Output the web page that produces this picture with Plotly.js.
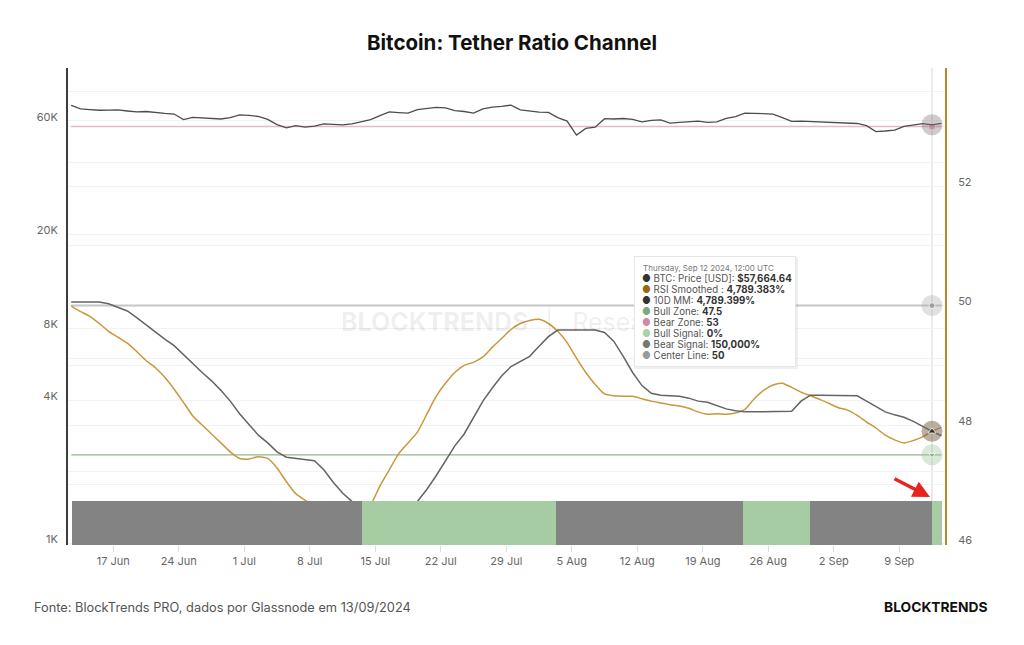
<!DOCTYPE html>
<html>
<head>
<meta charset="utf-8">
<script src="https://cdn.plot.ly/plotly-3.0.1.min.js"></script>
<style>
html,body{margin:0;padding:0;background:#fff;}
#chart{width:1024px;height:645px;}
</style>
</head>
<body>
<div id="chart"></div>
<script>
// ---------- DATA ----------
// Daily observations at 12:00 UTC, starting 12 Jun 2024
const startDate = '2024-06-12T12:00:00Z';

// BTC price (USD) - left log axis
const btcPrice = [69600, 67300, 66800, 66400, 66500, 66600, 65900, 65300, 65600, 64900,
  64400, 64000, 60600, 61900, 61600, 61200, 61000, 61800, 63500, 63200,
  62500, 60800, 57800, 56000, 57200, 56400, 56900, 58200, 57800, 57600,
  58200, 59300, 60600, 63000, 65300, 64900, 64600, 66800, 67600, 68300,
  67900, 66200, 65600, 64600, 67300, 68400, 68900, 69800, 66700, 65900,
  65200, 65000, 61800, 59800, 52200, 55700, 56300, 61200, 61000, 61300,
  60800, 59300, 60200, 60500, 58600, 59000, 59400, 59800, 59000, 59300,
  61300, 62400, 64600, 64500, 64300, 64000, 61800, 59600, 59800, 59600,
  59400, 59000, 58900, 58800, 58400, 57200, 54000, 54300, 54800, 56800,
  57600, 58300, 57664.64, 58500];

// RSI Smoothed - right axis
const rsiSmoothed = [49.99, 49.90, 49.82, 49.70, 49.57, 49.47, 49.37, 49.23, 49.08, 48.96,
  48.80, 48.60, 48.38, 48.15, 48.00, 47.85, 47.70, 47.55, 47.44, 47.43,
  47.47, 47.44, 47.28, 47.05, 46.85, 46.74, 46.62, 46.50, 46.40, 46.35,
  46.38, 46.48, 46.66, 46.98, 47.25, 47.52, 47.70, 47.88, 48.18, 48.48,
  48.70, 48.88, 49.00, 49.05, 49.14, 49.30, 49.45, 49.60, 49.70, 49.75,
  49.77, 49.70, 49.57, 49.38, 49.12, 48.88, 48.68, 48.52, 48.49, 48.48,
  48.48, 48.44, 48.40, 48.37, 48.34, 48.32, 48.28, 48.22, 48.18, 48.19,
  48.18, 48.20, 48.26, 48.44, 48.58, 48.67, 48.70, 48.63, 48.55, 48.49,
  48.43, 48.36, 48.29, 48.25, 48.16, 48.05, 47.95, 47.83, 47.75, 47.70,
  47.74, 47.80, 47.89383, 47.96];

// 10D MM - right axis
const mm10d = [50.06, 50.06, 50.06, 50.06, 50.03, 49.97, 49.91, 49.80, 49.68, 49.55,
  49.44, 49.33, 49.18, 49.02, 48.88, 48.74, 48.58, 48.40, 48.19, 48.01,
  47.83, 47.70, 47.55, 47.46, 47.44, 47.43, 47.40, 47.25, 47.04, 46.86,
  46.72, 46.62, 46.50, 46.40, 46.35, 46.38, 46.52, 46.72, 46.92, 47.15,
  47.40, 47.65, 47.85, 48.12, 48.40, 48.62, 48.82, 48.98, 49.07, 49.15,
  49.32, 49.48, 49.59, 49.59, 49.59, 49.59, 49.59, 49.55, 49.40, 49.15,
  48.88, 48.66, 48.53, 48.50, 48.49, 48.48, 48.45, 48.40, 48.38, 48.33,
  48.27, 48.24, 48.22, 48.22, 48.22, 48.22, 48.22, 48.23, 48.40, 48.50,
  48.50, 48.50, 48.50, 48.50, 48.49, 48.40, 48.31, 48.22, 48.17, 48.13,
  48.06, 47.97, 47.89399, 47.82];

// Reference levels
const bullZone = 47.5;
const bearZone = 53;
const centerLine = 50;
const signalLevel = 1500;   // 150,000 %

// Signal periods (bull / bear)
const signalStart = ['2024-06-12 15:00', '2024-07-13 14:00', '2024-08-03 07:00', '2024-08-23 06:00', '2024-08-30 10:00', '2024-09-12 11:00'];
const signalEnd   = ['2024-07-13 14:00', '2024-08-03 07:00', '2024-08-23 06:00', '2024-08-30 10:00', '2024-09-12 11:00', '2024-09-13 13:00'];
const signalType  = ['bear', 'bull', 'bear', 'bull', 'bear', 'bull'];

// Axis ticks
const leftTickVals = [1000, 2000, 4000, 6000, 8000, 10000, 20000, 40000, 60000, 80000, 100000];
const leftTickText = ['1K', '', '4K', '', '8K', '', '20K', '', '60K', '', ''];
const rightTickVals = [46, 47, 48, 49, 50, 51, 52, 53, 54];
const rightTickText = ['46', '', '48', '', '50', '', '52', '', ''];

// Hovered point shown in the picture
const hoverIndex = 92;

// ---------- BUILD ----------
const DAY = 86400000;
const t0 = Date.parse(startDate);
const fmt = ms => new Date(ms).toISOString().slice(0, 16).replace('T', ' ');
const dates = btcPrice.map((_, i) => fmt(t0 + i * DAY));
const hoverDate = dates[hoverIndex];
const flat = v => dates.map(() => v);

const bullX = [], bullW = [], bearX = [], bearW = [];
signalType.forEach((t, i) => {
  const s = Date.parse(signalStart[i].replace(' ', 'T') + ':00Z');
  const e = Date.parse(signalEnd[i].replace(' ', 'T') + ':00Z');
  if (t === 'bull') { bullX.push(signalStart[i]); bullW.push(e - s); }
  else { bearX.push(signalStart[i]); bearW.push(e - s); }
});

const GOLD = '#c9973e';
const traces = [
  // main (right) axis
  {x: dates, y: flat(centerLine), type: 'scatter', mode: 'lines', name: 'Center Line',
   line: {color: '#c6c6c6', width: 2}, yaxis: 'y'},
  {x: dates, y: flat(bullZone), type: 'scatter', mode: 'lines', name: 'Bull Zone',
   line: {color: '#93b78e', width: 1.3}, yaxis: 'y'},
  {x: dates, y: flat(bearZone), type: 'scatter', mode: 'lines', name: 'Bear Zone',
   line: {color: '#e5b9c9', width: 1.6}, yaxis: 'y'},
  {x: dates, y: rsiSmoothed, type: 'scatter', mode: 'lines', name: 'RSI Smoothed',
   line: {color: GOLD, width: 1.5, shape: 'spline', smoothing: 0.6}, yaxis: 'y'},
  {x: dates, y: mm10d, type: 'scatter', mode: 'lines', name: '10D MM',
   line: {color: '#646464', width: 1.5}, yaxis: 'y'},
  // hover markers on main axis
  {x: [hoverDate, hoverDate, hoverDate], y: [centerLine, rsiSmoothed[hoverIndex], bullZone],
   type: 'scatter', mode: 'markers', yaxis: 'y',
   marker: {size: 21, color: ['rgba(170,170,170,0.35)', 'rgba(120,100,70,0.5)', 'rgba(150,195,150,0.35)']}},
  {x: [hoverDate, hoverDate, hoverDate, hoverDate], y: [centerLine, rsiSmoothed[hoverIndex], bullZone, bearZone],
   type: 'scatter', mode: 'markers', yaxis: 'y',
   marker: {size: [6, 7, 6, 7], symbol: ['circle', 'triangle-up', 'triangle-down', 'circle'],
            color: ['#8f8f8f', '#111', '#7da878', '#d88fae']}},
  // overlay (left log) axis
  {x: dates, y: btcPrice, type: 'scatter', mode: 'lines', name: 'BTC: Price [USD]',
   line: {color: '#4d4d4d', width: 1.3}, yaxis: 'y2'},
  {x: [hoverDate], y: [btcPrice[hoverIndex]], type: 'scatter', mode: 'markers', yaxis: 'y2',
   marker: {size: 21, color: 'rgba(125,105,115,0.35)'}},
  {x: bearX, y: bearX.map(() => signalLevel), width: bearW, offset: 0, type: 'bar', name: 'Bear Signal',
   marker: {color: '#838383', line: {width: 0}}, yaxis: 'y2'},
  {x: bullX, y: bullX.map(() => signalLevel), width: bullW, offset: 0, type: 'bar', name: 'Bull Signal',
   marker: {color: '#a6cca4', line: {width: 0}}, yaxis: 'y2'}
];

// Tooltip text
const pct = v => (v * 100).toLocaleString('en-US', {minimumFractionDigits: 3, maximumFractionDigits: 3}) + '%';
const dot = c => `<span style="color:${c}">●</span> `;
const lab = (c, l, v) => dot(c) + `<span style="color:#555">${l}</span> <b>${v}</b>`;
const tipHeader = 'Thursday, Sep 12 2024, 12:00 UTC';
const tipLines = [
  lab('#333', 'BTC: Price [USD]:', '$' + btcPrice[hoverIndex].toLocaleString('en-US', {minimumFractionDigits: 2})),
  lab('#9c6610', 'RSI Smoothed :', pct(rsiSmoothed[hoverIndex])),
  lab('#333', '10D MM:', pct(mm10d[hoverIndex])),
  lab('#7fa87a', 'Bull Zone:', String(bullZone)),
  lab('#d08aa8', 'Bear Zone:', String(bearZone)),
  lab('#a8d4a4', 'Bull Signal:', '0%'),
  lab('#777', 'Bear Signal:', (signalLevel * 100).toLocaleString('en-US') + '%'),
  lab('#9a9a9a', 'Center Line:', String(centerLine))
];

const PL = 68, PR = 945, PT = 68, PB = 545;
const px = x => (x - PL) / (PR - PL);
const py = y => (PB - y) / (PB - PT);
const FONT = 'Inter, Roboto, sans-serif';

const annotations = [
  // watermark
  {xref: 'paper', yref: 'paper', x: px(339), y: py(323), xanchor: 'left', yanchor: 'middle', showarrow: false,
   text: '<b>BLOCKTRENDS</b>  │  Research', font: {size: 25, color: 'rgba(0,0,0,0.08)', family: FONT}},
  // tooltip shadow + box
  {xref: 'paper', yref: 'paper', x: px(634), y: py(257), xanchor: 'left', yanchor: 'top', showarrow: false,
   text: '&nbsp;', width: 164, height: 112, bgcolor: 'rgba(0,0,0,0.06)', borderpad: 0, borderwidth: 0},
  {xref: 'paper', yref: 'paper', x: px(634), y: py(256), xanchor: 'left', yanchor: 'top', showarrow: false,
   text: '&nbsp;', width: 160, height: 109, bgcolor: '#ffffff', bordercolor: '#e6e6e6', borderwidth: 1, borderpad: 0},
  {xref: 'paper', yref: 'paper', x: px(641), y: py(268), xanchor: 'left', yanchor: 'middle', showarrow: false,
   text: tipHeader, font: {size: 8, color: '#777', family: FONT}}
];
tipLines.forEach((t, i) => annotations.push({
  xref: 'paper', yref: 'paper', x: px(640), y: py(278.5 + 11 * i), xanchor: 'left', yanchor: 'middle',
  showarrow: false, text: t, font: {size: 9.7, color: '#333', family: FONT}
}));
annotations.push(
  // red arrow
  {xref: 'paper', yref: 'paper', x: px(930), y: py(497), ax: -37, ay: -19, text: '', showarrow: true,
   arrowhead: 2, arrowsize: 1, arrowwidth: 3.4, arrowcolor: '#e8221c', standoff: 0},
  // footer
  {xref: 'paper', yref: 'paper', x: px(32), y: py(607), xanchor: 'left', yanchor: 'middle', showarrow: false,
   text: 'Fonte: BlockTrends PRO, dados por Glassnode em 13/09/2024', font: {size: 12.8, color: '#555', family: FONT}},
  {xref: 'paper', yref: 'paper', x: px(989), y: py(607), xanchor: 'right', yanchor: 'middle', showarrow: false,
   text: '<b>BLOCKTRENDS</b>', font: {size: 13.8, color: '#111', family: FONT}}
);

const layout = {
  width: 1024, height: 645,
  margin: {l: PL, r: 1024 - PR, t: PT, b: 645 - PB, autoexpand: false},
  paper_bgcolor: '#ffffff', plot_bgcolor: '#ffffff',
  font: {family: FONT, color: '#666', size: 11},
  showlegend: false, hovermode: false, barmode: 'overlay', bargap: 0,
  title: {text: '<b>Bitcoin: Tether Ratio Channel</b>', x: 0.5, xref: 'container', xanchor: 'center',
          y: 1 - 43 / 645, yref: 'container', yanchor: 'middle',
          font: {family: FONT, size: 20.5, color: '#111'}},
  xaxis: {type: 'date', range: ['2024-06-12 03:49', '2024-09-13 21:16'],
          tick0: '2024-06-17', dtick: 7 * DAY, tickformat: '%-d %b',
          ticks: 'outside', ticklen: 6, tickcolor: '#dddddd', showgrid: false, zeroline: false,
          showline: false, tickfont: {size: 11, color: '#666'}, fixedrange: true},
  yaxis: {side: 'right', range: [45.99, 53.98], tickmode: 'array', tickvals: rightTickVals, ticktext: rightTickText,
          showgrid: true, gridcolor: '#f2f2f2', gridwidth: 1, zeroline: false, ticks: '',
          showline: true, linecolor: '#b8862b', linewidth: 2, ticklabelstandoff: 9, ticklabelshift: -4,
          tickfont: {size: 11, color: '#666'}, fixedrange: true},
  yaxis2: {type: 'log', overlaying: 'y', side: 'left', range: [2.9916, 5.0], tickmode: 'array',
           tickvals: leftTickVals, ticktext: leftTickText, showgrid: true, gridcolor: '#f2f2f2',
           zeroline: false, ticks: '', showline: true, linecolor: '#3d3d3d', linewidth: 2,
           ticklabelstandoff: 6, ticklabelshift: -4, tickfont: {size: 11, color: '#666'}, fixedrange: true},
  shapes: [
    {type: 'line', xref: 'x', yref: 'paper', x0: hoverDate, x1: hoverDate, y0: 0, y1: 1,
     line: {color: '#d6d6d6', width: 1}, layer: 'below'}
  ],
  annotations: annotations
};

Plotly.newPlot('chart', traces, layout, {displayModeBar: false, staticPlot: true});
</script>
</body>
</html>
